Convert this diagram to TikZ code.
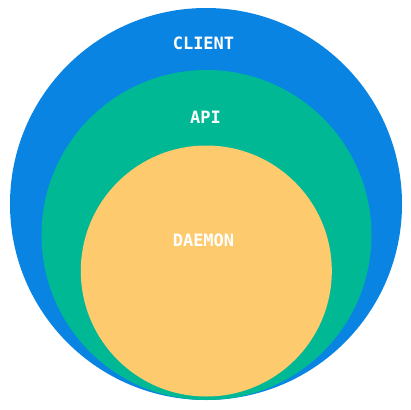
\documentclass[tikz,border=0pt]{standalone}
\usepackage{fontspec}
\newfontfamily\labelfont{DejaVu Sans Mono}
\definecolor{cblue}{HTML}{0984E3}
\definecolor{cgreen}{HTML}{00B894}
\definecolor{cyellow}{HTML}{FDCB6E}
\begin{document}
\begin{tikzpicture}[x=1pt,y=-1pt,
  ring/.style={circle,inner sep=0pt,draw=none},
  lbl/.style={text=white,font=\labelfont\bfseries\fontsize{17}{17}\selectfont,inner sep=0pt}]
\useasboundingbox (0,0) rectangle (410,410);
\node[ring,fill=cblue,minimum size=392pt] (client) at (206,204) {};
\node[ring,fill=cgreen,minimum size=330pt] (api) at (206.5,235) {};
\node[ring,fill=cyellow,minimum size=251pt] (daemon) at (206.3,271) {};
\node[lbl] (tclient) at (203.5,43.7) {CLIENT};
\node[lbl] (tapi) at (205.5,117.3) {API};
\node[lbl] (tdaemon) at (203.5,240.7) {DAEMON};
\end{tikzpicture}
\end{document}
